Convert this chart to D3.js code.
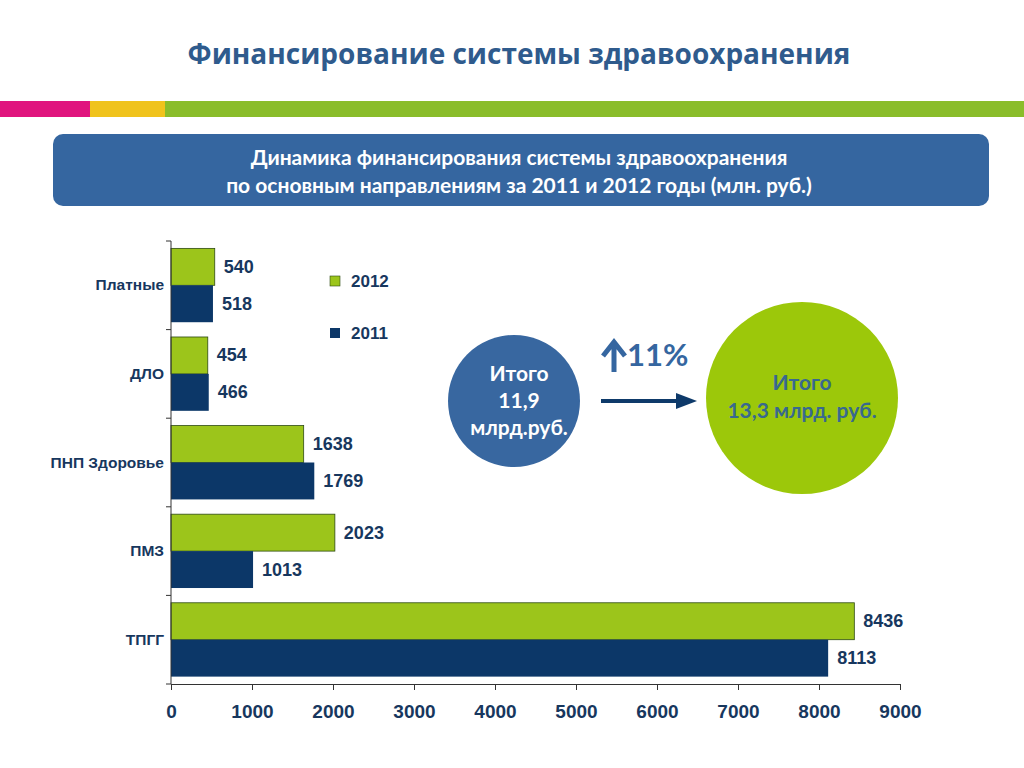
<!DOCTYPE html>
<html lang="ru">
<head>
<meta charset="UTF-8">
<title>Финансирование системы здравоохранения</title>
<style>
  body { margin: 0; background: #fff; }
  svg { display: block; }
</style>
</head>
<body>
<script src="https://cdn.jsdelivr.net/npm/d3@7"></script>
<script>
var categories = ['Платные', 'ДЛО', 'ПНП Здоровье', 'ПМЗ', 'ТПГГ']
var values2012 = [540, 454, 1638, 2023, 8436]
var values2011 = [518, 466, 1769, 1013, 8113]
var years = ['2012', '2011']
var ticks = [0, 1000, 2000, 3000, 4000, 5000, 6000, 7000, 8000, 9000]

var green = '#9cc51b', navy = '#0c3768', titleBlue = '#2f5b8d', textNavy = '#17375e'

var svg = d3.select('body').append('svg').attr('width', 1024).attr('height', 768)

// title
svg.append('text').attr('x', 519).attr('y', 64).attr('text-anchor', 'middle')
  .attr('font-family', 'Open Sans').attr('font-weight', 'bold').attr('font-size', 28)
  .attr('fill', titleBlue).text('Финансирование системы здравоохранения')

// colour stripe
svg.append('rect').attr('x', 0).attr('y', 101).attr('width', 1024).attr('height', 16).attr('fill', '#8abd2a')
svg.append('rect').attr('x', 0).attr('y', 101).attr('width', 90).attr('height', 16).attr('fill', '#e0157e')
svg.append('rect').attr('x', 90).attr('y', 101).attr('width', 75).attr('height', 16).attr('fill', '#f0c31c')

// banner
svg.append('rect').attr('x', 53).attr('y', 134).attr('width', 936).attr('height', 72).attr('rx', 10)
  .attr('fill', '#3566a0')
var ban = svg.append('text').attr('text-anchor', 'middle').attr('fill', '#fff')
  .attr('font-family', 'Lato').attr('font-weight', 'bold').attr('font-size', 21)
ban.append('tspan').attr('x', 519).attr('y', 165).text('Динамика финансирования системы здравоохранения')
ban.append('tspan').attr('x', 519).attr('y', 193).text('по основным направлениям за 2011 и 2012 годы (млн. руб.)')

// chart
var x = d3.scaleLinear().domain([0, 9000]).range([171, 900])
var y = d3.scaleBand().domain(categories).range([241, 684]).paddingInner(0).paddingOuter(0)
var sub = d3.scaleBand().domain(years).range([0, y.bandwidth()]).paddingOuter(0.2).paddingInner(0)

var rows = categories.map(function (c, i) {
  return { cat: c, vals: [{ year: '2012', v: values2012[i] }, { year: '2011', v: values2011[i] }] }
})

var g = svg.append('g')
var row = g.selectAll('g.row').data(rows).enter().append('g')
  .attr('transform', function (d) { return 'translate(0,' + y(d.cat) + ')' })

row.selectAll('rect').data(function (d) { return d.vals }).enter().append('rect')
  .attr('x', x(0))
  .attr('y', function (d) { return sub(d.year) })
  .attr('width', function (d) { return x(d.v) - x(0) })
  .attr('height', sub.bandwidth())
  .attr('fill', function (d) { return d.year === '2012' ? green : navy })
  .attr('stroke', function (d) { return d.year === '2012' ? '#2d4a12' : 'none' })
  .attr('stroke-width', 0.8)

row.selectAll('text.val').data(function (d) { return d.vals }).enter().append('text')
  .attr('class', 'val')
  .attr('x', function (d) { return x(d.v) + 9 })
  .attr('y', function (d) { return sub(d.year) + sub.bandwidth() / 2 + 6 })
  .attr('font-family', 'Liberation Sans').attr('font-weight', 'bold').attr('font-size', 18)
  .attr('fill', textNavy).text(function (d) { return d.v })

// y axis
var yAxis = g.append('g').attr('transform', 'translate(' + x(0) + ',0)')
yAxis.append('line').attr('y1', 241).attr('y2', 684).attr('stroke', '#333')
yAxis.selectAll('line.t').data(d3.range(categories.length + 1)).enter().append('line')
  .attr('x1', -5).attr('x2', 0)
  .attr('y1', function (i) { return 241 + i * y.step() })
  .attr('y2', function (i) { return 241 + i * y.step() })
  .attr('stroke', '#333')
yAxis.selectAll('text').data(categories).enter().append('text')
  .attr('x', -7).attr('y', function (d) { return y(d) + y.bandwidth() / 2 + 5 })
  .attr('text-anchor', 'end')
  .attr('font-family', 'Liberation Sans').attr('font-weight', 'bold').attr('font-size', 15.5)
  .attr('fill', textNavy).text(function (d) { return d })

// x axis
var xAxis = g.append('g').attr('transform', 'translate(0,684)')
  .call(d3.axisBottom(x).tickValues(ticks).tickSize(6).tickSizeOuter(0).tickFormat(d3.format('d')))
xAxis.select('.domain').attr('stroke', '#333')
xAxis.selectAll('.tick line').attr('stroke', '#333')
xAxis.selectAll('.tick text').attr('dy', 0).attr('y', 34)
  .attr('font-family', '"Liberation Sans Narrow", "Liberation Sans"').attr('font-weight', 'bold')
  .attr('font-size', 19).attr('fill', textNavy)

// legend
var leg = svg.append('g').selectAll('g').data(years).enter().append('g')
  .attr('transform', function (d, i) { return 'translate(330,' + (276 + i * 52) + ')' })
leg.append('rect').attr('width', 10).attr('height', 10)
  .attr('fill', function (d) { return d === '2012' ? green : navy })
  .attr('stroke', function (d) { return d === '2012' ? '#2d4a12' : 'none' }).attr('stroke-width', 0.6)
leg.append('text').attr('x', 21).attr('y', 11)
  .attr('font-family', 'Liberation Sans').attr('font-weight', 'bold').attr('font-size', 17)
  .attr('fill', textNavy).text(function (d) { return d })

// totals
svg.append('circle').attr('cx', 514).attr('cy', 401).attr('r', 66).attr('fill', '#3867a0')
var t1 = svg.append('text').attr('text-anchor', 'middle').attr('fill', '#fff')
  .attr('font-family', 'Lato').attr('font-weight', 'bold').attr('font-size', 21)
t1.append('tspan').attr('x', 519).attr('y', 381).text('Итого')
t1.append('tspan').attr('x', 519).attr('y', 408).text('11,9')
t1.append('tspan').attr('x', 519).attr('y', 435).text('млрд.руб.')

svg.append('circle').attr('cx', 802).attr('cy', 398).attr('r', 96).attr('fill', '#9cc80a')
var t2 = svg.append('text').attr('text-anchor', 'middle').attr('fill', '#38698f')
  .attr('font-family', 'Lato').attr('font-weight', 'bold').attr('font-size', 21)
t2.append('tspan').attr('x', 802).attr('y', 390).text('Итого')
t2.append('tspan').attr('x', 802).attr('y', 418).text('13,3 млрд. руб.')

// arrow
svg.append('line').attr('x1', 601).attr('x2', 680).attr('y1', 401).attr('y2', 401)
  .attr('stroke', '#0e3a6a').attr('stroke-width', 4)
svg.append('path').attr('d', 'M676,393 L697,401 L676,409 Z').attr('fill', '#0e3a6a')

// growth
svg.append('path').attr('d', 'M614,372 L614,345 M603,356 L614,342 L625,356')
  .attr('stroke', '#3566a0').attr('stroke-width', 5).attr('fill', 'none')
svg.append('text').attr('x', 627).attr('y', 366)
  .attr('font-family', 'Lato').attr('font-weight', 'bold').attr('font-size', 31)
  .attr('fill', '#3566a0').text('11%')
</script>
</body>
</html>
